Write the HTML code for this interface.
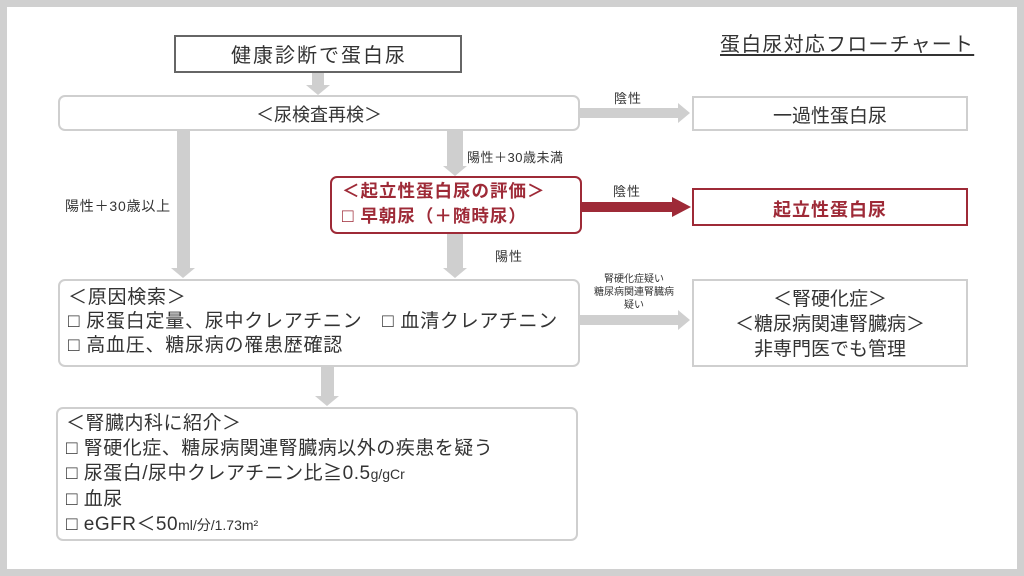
<!DOCTYPE html>
<html><head><meta charset="utf-8"><style>
body{margin:0;width:1024px;height:576px;overflow:hidden;background:#fff;font-family:"Liberation Sans","Noto Sans CJK JP",sans-serif;color:#333}
#f{position:absolute;left:0;top:0;width:1024px;height:576px;box-sizing:border-box;border:7px solid #d0d0d0}
.b{position:absolute;box-sizing:border-box;border:2px solid #cfcfcf;background:#fff}
.r{border-radius:7px}
.t{position:absolute;white-space:nowrap}
svg{position:absolute;left:0;top:0}
</style></head><body>
<div id="f"></div>
<svg width="1024" height="576">
<g fill="#cfcfcf">
<polygon points="312,72 324,72 324,85 330,85 318,95 306,85 312,85"/>
<polygon points="580,108 678,108 678,103 690,113 678,123 678,118 580,118"/>
<polygon points="447,131 463,131 463,166 467,166 455,176 443,166 447,166"/>
<polygon points="177,131 190,131 190,268 195,268 183,278 171,268 177,268"/>
<polygon points="447,234 463,234 463,268 467,268 455,278 443,268 447,268"/>
<polygon points="580,315 678,315 678,310 690,320 678,330 678,325 580,325"/>
<polygon points="321,367 334,367 334,396 339,396 327,406 315,396 321,396"/>
</g>
<polygon fill="#9e2a37" points="582,202 672,202 672,197 691,207 672,217 672,212 582,212"/>
</svg>
<div class="b" style="left:174px;top:35px;width:288px;height:38px;border-color:#666"></div>
<div class="t" style="left:175px;top:39px;width:288px;text-align:center;font-size:20px;letter-spacing:2px">健康診断で蛋白尿</div>
<div class="t" style="left:720px;top:28px;font-size:20px;letter-spacing:1.2px;text-decoration:underline;text-underline-offset:3px">蛋白尿対応フローチャート</div>
<div class="b r" style="left:58px;top:95px;width:522px;height:36px"></div>
<div class="t" style="left:58px;top:101px;width:522px;text-align:center;font-size:18px">＜尿検査再検＞</div>
<div class="b" style="left:692px;top:96px;width:276px;height:35px"></div>
<div class="t" style="left:692px;top:101px;width:276px;text-align:center;font-size:19px">一過性蛋白尿</div>
<div class="t" style="left:614px;top:88px;font-size:13px;letter-spacing:1px">陰性</div>
<div class="t" style="left:467px;top:147px;font-size:13px;letter-spacing:0.5px">陽性＋30歳未満</div>
<div class="t" style="left:65px;top:196px;font-size:14px;letter-spacing:0.8px">陽性＋30歳以上</div>
<div class="b r" style="left:330px;top:176px;width:252px;height:58px;border-color:#9e2a37"></div>
<div class="t" style="left:342px;top:179px;font-size:17.5px;font-weight:bold;color:#9e2a37;line-height:25px;letter-spacing:1px">＜起立性蛋白尿の評価＞<br><span style="font-weight:normal;font-size:19px">□</span>&nbsp;早朝尿（＋随時尿）</div>
<div class="t" style="left:613px;top:181px;font-size:13px;letter-spacing:1px">陰性</div>
<div class="b" style="left:692px;top:188px;width:276px;height:38px;border-color:#9e2a37"></div>
<div class="t" style="left:692px;top:196px;width:276px;text-align:center;font-size:18px;font-weight:bold;color:#9e2a37;letter-spacing:1px">起立性蛋白尿</div>
<div class="t" style="left:495px;top:246px;font-size:13px;letter-spacing:1px">陽性</div>
<div class="b r" style="left:58px;top:279px;width:522px;height:88px"></div>
<div class="t" style="left:68px;top:286px;font-size:19px;line-height:24px;letter-spacing:0.75px">＜原因検索＞<br>□ 尿蛋白定量、尿中クレアチニン　□ 血清クレアチニン<br>□ 高血圧、糖尿病の罹患歴確認</div>
<div class="t" style="left:584px;top:273px;width:100px;text-align:center;font-size:10px;line-height:13px">腎硬化症疑い<br>糖尿病関連腎臓病<br>疑い</div>
<div class="b" style="left:692px;top:279px;width:276px;height:88px"></div>
<div class="t" style="left:692px;top:287px;width:276px;text-align:center;font-size:19px;line-height:25px">＜腎硬化症＞<br>＜糖尿病関連腎臓病＞<br>非専門医でも管理</div>
<div class="b r" style="left:56px;top:407px;width:522px;height:134px"></div>
<div class="t" style="left:66px;top:411px;font-size:19px;line-height:25px;letter-spacing:0.5px">＜腎臓内科に紹介＞<br>□ 腎硬化症、糖尿病関連腎臓病以外の疾患を疑う<br>□ 尿蛋白/尿中クレアチニン比≧0.5<span style="font-size:14px;letter-spacing:0">g/gCr</span><br>□ 血尿<br>□ eGFR＜50<span style="font-size:14px;letter-spacing:0">ml/分/1.73m²</span></div>
</body></html>
